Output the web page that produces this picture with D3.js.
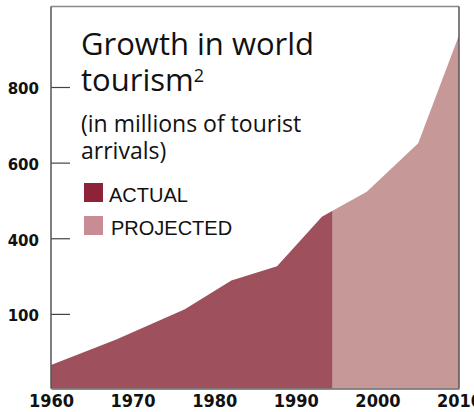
<!DOCTYPE html>
<html>
<head>
<meta charset="utf-8">
<script src="https://cdn.jsdelivr.net/npm/d3@7"></script>
<style>
  html, body { margin: 0; padding: 0; background: #fff; }
  svg { display: block; }
</style>
</head>
<body>
<svg id="chart" width="474" height="412"></svg>
<script>
// ---- data ----
const actualYears    = [1960, 1968, 1976.4, 1982.1, 1987.7, 1993.2, 1994.5];
const actualValues   = [65,   132,  212,    288,    326,    457,    473];
const projectedYears  = [1994.5, 1998.7, 2005, 2010];
const projectedValues = [473,    523,    651,  937];
const xTickValues = [1960, 1970, 1980, 1990, 2000, 2010];
const xTickLabels = ["1960", "1970", "1980", "1990", "2000", "2010"];
const yTickValues = [200, 400, 600, 800];
const yTickLabels = ["100", "400", "600", "800"];
const legendLabels = ["ACTUAL", "PROJECTED"];
const titleLines = ["Growth in world", "tourism"];
const subtitleLines = ["(in millions of tourist", "arrivals)"];

const colors = {
  actualArea: "#9e515d",
  projectedArea: "#c69898",
  actualKey: "#8e2238",
  projectedKey: "#c98c96",
  frame: "#555"
};

const svg = d3.select("#chart");
const pLeft = 51, pRight = 459, pTop = 6.5, pBottom = 388.5;

const x = d3.scaleLinear().domain([1960, 2010]).range([pLeft, pRight]);
const y = d3.scaleLinear().domain([0, 800]).range([389.5, 87]);

const area = d3.area()
  .x(d => x(d[0]))
  .y0(pBottom)
  .y1(d => y(d[1]));

const actual = actualYears.map((yr, i) => [yr, actualValues[i]]);
const projected = projectedYears.map((yr, i) => [yr, projectedValues[i]]);

svg.append("path").datum(projected).attr("d", area).attr("fill", colors.projectedArea);
svg.append("path").datum(actual).attr("d", area).attr("fill", colors.actualArea);

// frame
svg.append("line").attr("x1", pLeft).attr("x2", pRight).attr("y1", pTop).attr("y2", pTop)
  .attr("stroke", "#888").attr("stroke-width", 1.5);
svg.append("line").attr("x1", pRight).attr("x2", pRight).attr("y1", pTop).attr("y2", pBottom)
  .attr("stroke", "#555").attr("stroke-width", 1.5);

// y axis
const yAxis = d3.axisLeft(y)
  .tickValues(yTickValues)
  .tickSize(-19)
  .tickPadding(12)
  .tickFormat((d, i) => yTickLabels[i]);
const gy = svg.append("g").attr("transform", `translate(${pLeft},0)`).call(yAxis);
gy.select(".domain").remove();
gy.append("line").attr("x1", 0).attr("x2", 0).attr("y1", pTop).attr("y2", pBottom)
  .attr("stroke", colors.frame).attr("stroke-width", 1.5);
gy.selectAll(".tick line").attr("stroke", "#444").attr("stroke-width", 1.2);
gy.selectAll(".tick text")
  .attr("font-family", "'DejaVu Sans', sans-serif")
  .attr("font-weight", "bold")
  .attr("font-size", 15)
  .attr("fill", "#111")
  .attr("dy", "0.45em");

// x axis
const xAxis = d3.axisBottom(x)
  .tickValues(xTickValues)
  .tickSize(0)
  .tickPadding(6)
  .tickFormat((d, i) => xTickLabels[i]);
const gx = svg.append("g").attr("transform", `translate(0,${pBottom})`).call(xAxis);
gx.select(".domain").attr("stroke", "#666").attr("stroke-width", 1.5);
gx.selectAll(".tick text")
  .attr("font-family", "'Liberation Sans Narrow', 'DejaVu Sans Condensed', sans-serif")
  .attr("font-weight", "bold")
  .attr("font-size", 18)
  .attr("fill", "#111")
  .attr("dy", "0.7em");

// title
const tFont = "'Open Sans', 'Noto Sans', sans-serif";
svg.append("text").attr("x", 81).attr("y", 55)
  .attr("font-family", tFont).attr("font-size", 31).attr("fill", "#111")
  .text(titleLines[0]);
const t2 = svg.append("text").attr("x", 81).attr("y", 91)
  .attr("font-family", tFont).attr("font-size", 31).attr("fill", "#111")
  .text(titleLines[1]);
t2.append("tspan").attr("font-size", 18).attr("dy", -9).text("2");

svg.append("text").attr("x", 81).attr("y", 131.5)
  .attr("font-family", tFont).attr("font-size", 23).attr("fill", "#111")
  .text(subtitleLines[0]);
svg.append("text").attr("x", 81).attr("y", 159)
  .attr("font-family", tFont).attr("font-size", 23).attr("fill", "#111")
  .text(subtitleLines[1]);

// legend
const legendColors = [colors.actualKey, colors.projectedKey];
const legendY = [183, 216];
legendLabels.forEach((lab, i) => {
  svg.append("rect").attr("x", 84).attr("y", legendY[i]).attr("width", 19).attr("height", 19)
    .attr("fill", legendColors[i]);
  svg.append("text").attr("x", i === 0 ? 109 : 111).attr("y", legendY[i] + 18.5)
    .attr("font-family", "'Liberation Sans', Arial, sans-serif")
    .attr("font-size", 20).attr("fill", "#111")
    .text(lab);
});
</script>
</body>
</html>
